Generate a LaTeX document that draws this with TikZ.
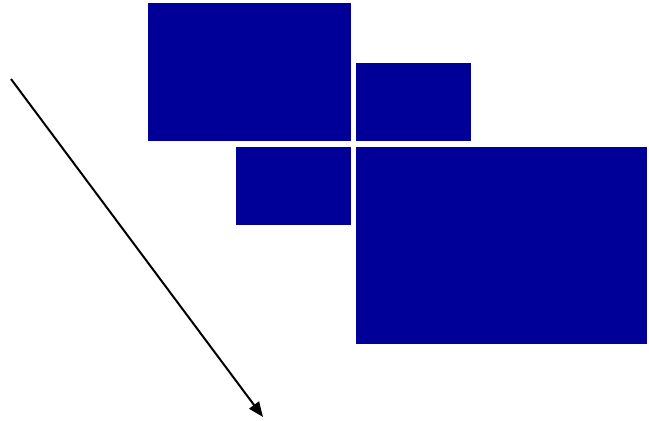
\documentclass[tikz,border=0pt]{standalone}
\usepackage{tikz}
\usetikzlibrary{positioning,arrows.meta,calc}
\definecolor{navy}{RGB}{0,0,153}

\begin{document}
\begin{tikzpicture}[
    x=1pt, y=-1pt,
    block/.style={fill=navy, draw=none, inner sep=0pt, outer sep=0pt, anchor=north west},
    pointer/.style={line width=2pt, -{Triangle[length=15pt,width=12pt]}},
  ]
    \useasboundingbox (0,0) rectangle (649,421);
    \node[block, minimum width=203pt, minimum height=138pt] (topleft) at (148,3) {};
    \node[block, minimum width=115pt, minimum height=78pt] (topright) at (356,63) {};
    \node[block, minimum width=115pt, minimum height=78pt] (middle) at (236,147) {};
    \node[block, minimum width=291pt, minimum height=197pt] (big) at (356,147) {};
    \coordinate (start) at (11,79);
    \coordinate (tip) at (263,417);
    \draw[pointer] (start) -- (tip);
  \end{tikzpicture}
\end{document}
